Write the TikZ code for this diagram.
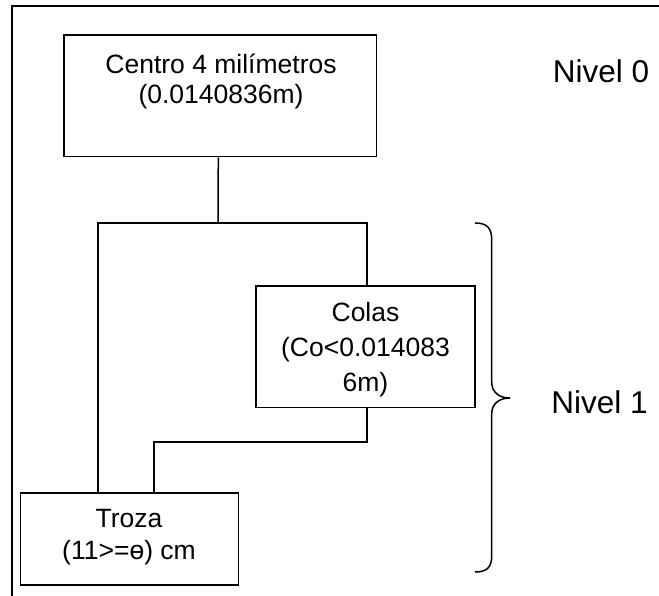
\documentclass[tikz,border=0pt]{standalone}
\usepackage{fontspec}
\setmainfont{Liberation Sans}
\begin{document}
\begin{tikzpicture}[x=1pt,y=-1pt,line width=1.5pt,
  box/.style={draw,rectangle,inner sep=0pt},
  boxtext/.style={inner sep=0pt,align=center,font=\fontsize{26.5}{#1}\selectfont},
  level/.style={inner sep=0pt,anchor=base,font=\fontsize{31.5}{36}\selectfont}]
  \useasboundingbox (0,0) rectangle (659,596);
  % outer frame (top and left edges)
  \draw (659,6) -- (12,6) -- (12,596);

  % boxes
  \node[box,minimum width=312.7pt,minimum height=121.7pt] (centro) at (220.3,95.8) {};
  \node[box,minimum width=219pt,minimum height=121.3pt] (colas) at (365.5,346.7) {};
  \node[box,minimum width=217.6pt,minimum height=92pt] (troza) at (129.5,539) {};

  % box texts
  \node[boxtext=30pt] (centrotxt) at (221,81) {Centro 4 milímetros\\(0.0140836m)};
  \node[boxtext=35pt] (colastxt) at (365.5,350) {Colas\\(Co<0.014083\\6m)};
  \node[boxtext=32pt] (trozatxt) at (129,537) {Troza\\(11>=ɵ) cm};

  % connectors
  \coordinate (hub) at (218,223);
  \coordinate (tl) at (98,223);
  \coordinate (tr) at (367,223);
  \coordinate (bend) at (154,442);
  \draw ([xshift=-2]centro.south) -- (hub);
  \draw (troza.north -| tl) -- (tl) -- (tr) -- (colas.north -| tr);
  \draw (colas.south -| tr) |- (bend) -- (troza.north -| bend);

  % brace spanning level 1
  \coordinate (bt) at (475,223);
  \coordinate (bm) at (510,398);
  \coordinate (bb) at (475,572);
  \draw (bt) .. controls (487,223) and (491.7,228) .. (491.7,240) -- (491.7,382)
        .. controls (491.7,393) and (500,398) .. (bm)
        .. controls (500,398) and (491.7,403) .. (491.7,414) -- (491.7,556)
        .. controls (491.7,567) and (487,572) .. (bb);

  % level labels
  \node[level] (n0) at (601,82.7) {Nivel 0};
  \node[level] (n1) at (599.5,413.3) {Nivel 1};
\end{tikzpicture}
\end{document}
